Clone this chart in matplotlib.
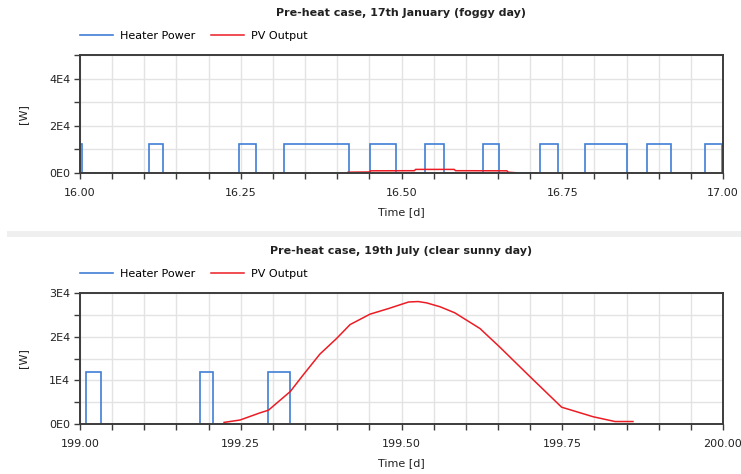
import matplotlib
matplotlib.use("Agg")
import matplotlib.pyplot as plt
from matplotlib.ticker import MultipleLocator, FuncFormatter
from matplotlib.lines import Line2D
from matplotlib.patches import Rectangle
import numpy as np

# ---------------- data ----------------
titles = ["Pre-heat case, 17th January (foggy day)",
          "Pre-heat case, 19th July (clear sunny day)"]
series_names = ["Heater Power", "PV Output"]
heater_level = 12000

# January (day 16)
jan_heater_on = [16.000, 16.108, 16.247, 16.317, 16.451, 16.537, 16.626, 16.715, 16.785, 16.882, 16.972]
jan_heater_off = [16.003, 16.129, 16.273, 16.418, 16.492, 16.566, 16.652, 16.744, 16.850, 16.919, 16.998]
jan_pv_t = [16.417, 16.450, 16.452, 16.520, 16.522, 16.582, 16.584, 16.664, 16.666, 16.677]
jan_pv_w = [200, 300, 800, 850, 1400, 1400, 850, 800, 200, 0]

# July (day 199)
jul_heater_on = [199.010, 199.186, 199.293]
jul_heater_off = [199.033, 199.207, 199.327]
jul_pv_t = [199.224, 199.249, 199.280, 199.293, 199.327, 199.347, 199.373, 199.399,
            199.420, 199.451, 199.480, 199.511, 199.526, 199.539, 199.560, 199.583, 199.622,
            199.653, 199.700, 199.749, 199.798, 199.832, 199.860]
jul_pv_w = [300, 850, 2500, 3100, 7400, 11200, 16000, 19600,
            22800, 25200, 26500, 28000, 28100, 27800, 26900, 25500, 21900,
            17600, 10800, 3800, 1600, 500, 500]

xlims = [(16.0, 17.0), (199.0, 200.0)]
ylims = [(0, 50000), (0, 30000)]
y_major = [20000, 10000]
y_minor = [10000, 5000]

BLUE = "#3f7fd6"
RED = "#ec1c24"
GRID = "#e3e3e3"
SPINE = "#3c3c3c"
FONT = "DejaVu Sans"


def step_series(on, off, level):
    t, p = [], []
    for a, b in zip(on, off):
        t += [a, a, b, b]
        p += [0, level, level, 0]
    return t, p


def fmt_e(v, pos):
    if v == 0:
        return "0E0"
    e = int(np.floor(np.log10(abs(v))))
    m = v / 10 ** e
    return f"{m:g}E{e}"


W, H = 741, 474
fig = plt.figure(figsize=(W / 100, H / 100), dpi=100)

# separator band
fig.patches.append(Rectangle((7 / W, 1 - 236.7 / H), 1, 6 / H, transform=fig.transFigure,
                             facecolor="#efefef", edgecolor="none", zorder=0))

panels = [
    dict(top=55, bottom=172.7, title_y=13, leg_y=36, xlabel_y=212,
         on=jan_heater_on, off=jan_heater_off, pv_t=jan_pv_t, pv_w=jan_pv_w),
    dict(top=293.3, bottom=423.7, title_y=251, leg_y=274, xlabel_y=463,
         on=jul_heater_on, off=jul_heater_off, pv_t=jul_pv_t, pv_w=jul_pv_w),
]

left, right = 80, 723
for i, pn in enumerate(panels):
    ax = fig.add_axes([left / W, 1 - pn["bottom"] / H, (right - left) / W, (pn["bottom"] - pn["top"]) / H])
    ht, hp = step_series(pn["on"], pn["off"], heater_level)
    ax.plot(ht, hp, color=BLUE, lw=1.2, zorder=2, solid_joinstyle="miter")
    ax.plot(pn["pv_t"], pn["pv_w"], color=RED, lw=1.1, zorder=2.2)
    ax.set_xlim(*xlims[i])
    ax.set_ylim(*ylims[i])
    ax.xaxis.set_major_locator(MultipleLocator(0.25))
    ax.xaxis.set_minor_locator(MultipleLocator(0.05))
    ax.xaxis.set_major_formatter(FuncFormatter(lambda v, p: f"{v:.2f}"))
    ax.yaxis.set_major_locator(MultipleLocator(y_major[i]))
    ax.yaxis.set_minor_locator(MultipleLocator(y_minor[i]))
    ax.yaxis.set_major_formatter(FuncFormatter(fmt_e))
    ax.grid(True, which="both", color=GRID, lw=1.0, zorder=0)
    ax.set_axisbelow(True)
    for s in ax.spines.values():
        s.set_color(SPINE)
        s.set_linewidth(1.4)
        s.set_zorder(3)
    ax.tick_params(which="both", direction="out", color=SPINE, width=1.0,
                   labelsize=8, labelcolor="#222222")
    ax.tick_params(axis="x", which="both", pad=7)
    ax.tick_params(axis="y", which="both", pad=3)
    ax.tick_params(which="major", length=4)
    ax.tick_params(which="minor", length=4)
    for lab in ax.get_xticklabels() + ax.get_yticklabels():
        lab.set_fontfamily(FONT)
    ax.set_ylabel("[W]", fontsize=8, family=FONT, color="#222222", labelpad=15)

    fig.text(((left + right) / 2) / W, 1 - pn["title_y"] / H, titles[i], ha="center", va="center",
             fontsize=8, fontweight="bold", family=FONT, color="#222222")
    fig.text(((left + right) / 2) / W, 1 - pn["xlabel_y"] / H, "Time [d]", ha="center", va="center",
             fontsize=8, family=FONT, color="#222222")

    handles = [Line2D([], [], color=BLUE, lw=1.2), Line2D([], [], color=RED, lw=1.1)]
    fig.legend(handles, series_names, loc="center left",
               bbox_to_anchor=(left / W, 1 - pn["leg_y"] / H), bbox_transform=fig.transFigure,
               ncol=2, frameon=False, handlelength=3.0, handletextpad=0.6,
               columnspacing=1.4, borderpad=0, borderaxespad=0,
               prop={"family": FONT, "size": 8})

fig.savefig("out.png", dpi=100, facecolor="white")
